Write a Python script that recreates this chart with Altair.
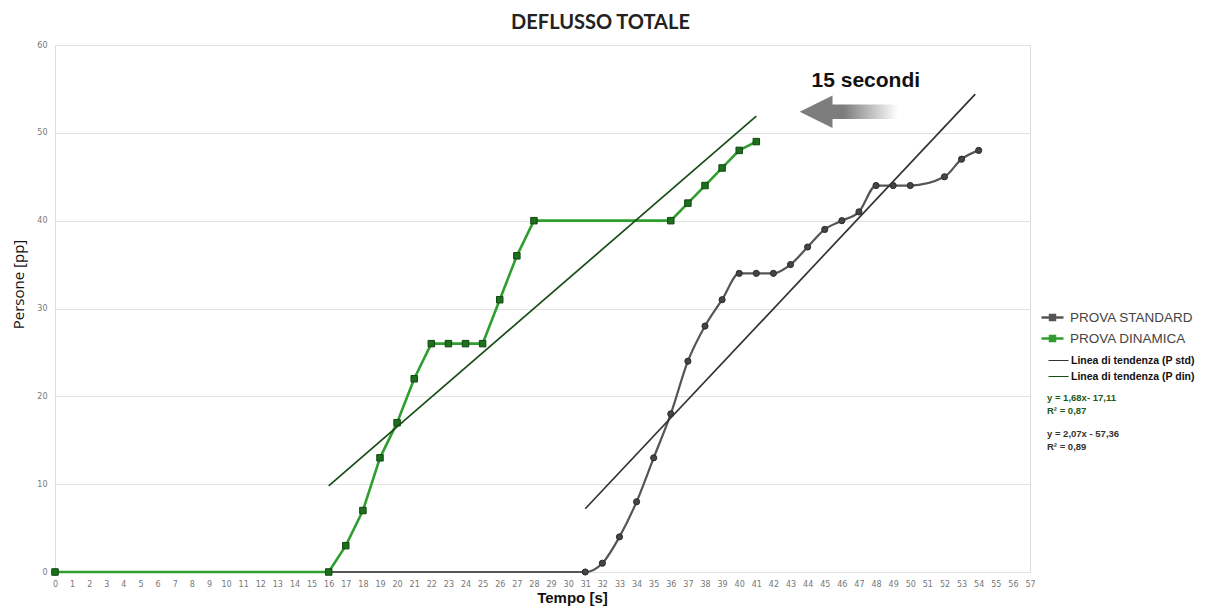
import altair as alt
import pandas as pd

# ---------------- data ----------------
title_text = "DEFLUSSO TOTALE"
x_title = "Tempo [s]"
y_title = "Persone [pp]"
series_names = ["PROVA STANDARD", "PROVA DINAMICA"]
trend_names = ["Linea di tendenza (P std)", "Linea di tendenza (P din)"]

std_t = [0, 31, 32, 33, 34, 35, 36, 37, 38, 39, 40, 41, 42, 43, 44, 45, 46, 47, 48, 49, 50, 52, 53, 54]
std_v = [0, 0, 1, 4, 8, 13, 18, 24, 28, 31, 34, 34, 34, 35, 37, 39, 40, 41, 44, 44, 44, 45, 47, 48]

din_t = [0, 16, 17, 18, 19, 20, 21, 22, 23, 24, 25, 26, 27, 28, 36, 37, 38, 39, 40, 41]
din_v = [0, 0, 3, 7, 13, 17, 22, 26, 26, 26, 26, 31, 36, 40, 40, 42, 44, 46, 48, 49]

std_trend_t = [31, 53.8]
std_trend_v = [7.2, 54.4]
din_trend_t = [16, 41]
din_trend_v = [9.8, 51.9]

eq_din = "y = 1,68x- 17,11\nR² = 0,87"
eq_std = "y = 2,07x - 57,36\nR² = 0,89"

arrow_label = ["15 secondi"]
arrow_t = [46.4]
arrow_v = [52.4]
label_t = [47.4]
label_v = [55.9]

x_ticks = list(range(0, 58))
y_ticks = [0, 10, 20, 30, 40, 50, 60]

# ---------------- tables ----------------
series_df = pd.concat([
    pd.DataFrame({"t": std_t, "v": std_v, "serie": series_names[0]}),
    pd.DataFrame({"t": din_t, "v": din_v, "serie": series_names[1]}),
], ignore_index=True)

trend_df = pd.concat([
    pd.DataFrame({"t": std_trend_t, "v": std_trend_v, "trend": trend_names[0]}),
    pd.DataFrame({"t": din_trend_t, "v": din_trend_v, "trend": trend_names[1]}),
], ignore_index=True)

arrow_df = pd.DataFrame({"t": arrow_t, "v": arrow_v})
label_df = pd.DataFrame({"t": label_t, "v": label_v, "txt": arrow_label})

# ---------------- encodings ----------------
X = alt.X("t:Q",
          scale=alt.Scale(domain=[0, 57], nice=False, zero=True),
          axis=alt.Axis(values=x_ticks, title=x_title, grid=False, ticks=False, domain=False,
                        labelFontSize=8, labelColor="#777", labelFont="DejaVu Sans",
                        labelPadding=8, labelFlush=False, labelOverlap=False,
                        titleFont="Liberation Sans", titleFontSize=15, titleFontWeight="bold",
                        titleColor="#111", titlePadding=2, titleX=517, titleAlign="center"))
Y = alt.Y("v:Q",
          scale=alt.Scale(domain=[0, 60], nice=False),
          axis=alt.Axis(values=y_ticks, title=y_title, grid=True, gridColor="#e2e2e2",
                        ticks=False, domain=False, labelFontSize=8, labelColor="#777",
                        labelFont="DejaVu Sans", labelPadding=8,
                        titleFont="Open Sans", titleFontSize=15, titleFontWeight="normal",
                        titleColor="#111", titleX=-37, titleY=239, titleBaseline="middle",
                        titleAngle=270))

color_scale = alt.Scale(domain=series_names, range=["#555555", "#2f9e2f"])
legend_path = "M-1,0L1,0M-0.22,-0.22L0.22,-0.22L0.22,0.22L-0.22,0.22Z"
series_legend = alt.Legend(title=None, orient="none", legendX=985, legendY=260,
                           labelFontSize=13.5, labelColor="#444", labelFont="Liberation Sans",
                           symbolType=legend_path, symbolSize=484, symbolStrokeWidth=2.6,
                           rowPadding=-1, labelOffset=5, labelLimit=300)


def series_layers(name, shape, pt_fill, pt_stroke, lw, size, interp, with_legend):
    base = alt.Chart(series_df).transform_filter(alt.datum.serie == name)
    line = base.mark_line(strokeWidth=lw, interpolate=interp).encode(
        x=X, y=Y,
        color=alt.Color("serie:N", scale=color_scale,
                        legend=series_legend if with_legend else None))
    pts = base.mark_point(shape=shape, filled=True, size=size, fill=pt_fill,
                          stroke=pt_stroke, strokeWidth=1, opacity=1).encode(x=X, y=Y)
    return [line, pts]


std_layers = series_layers(series_names[0], "circle", "#454545", "#2a2a2a", 2.2, 38, "monotone", True)
din_layers = series_layers(series_names[1], "square", "#1d6e1d", "#0f4a0f", 2.6, 42, "linear", False)

series_chart = alt.layer(*std_layers, *din_layers)

trend_chart = alt.Chart(trend_df).mark_line(strokeWidth=1.7).encode(
    x=X, y=Y,
    color=alt.Color("trend:N",
                    scale=alt.Scale(domain=trend_names, range=["#333333", "#174d17"]),
                    legend=alt.Legend(title=None, orient="none", legendX=993, legendY=305,
                                      labelFontSize=10.5, labelFontWeight="bold", labelColor="#111",
                                      labelFont="Liberation Sans", symbolType="stroke",
                                      symbolSize=400, symbolStrokeWidth=1, rowPadding=-9,
                                      symbolStrokeColor="#9a9a9a",
                                      labelOffset=2, labelLimit=300)),
    detail="trend:N")

arrow_grad = alt.Gradient(gradient="linear",
                          stops=[alt.GradientStop(color="#7d7d7d", offset=0),
                                 alt.GradientStop(color="#7d7d7d", offset=0.45),
                                 alt.GradientStop(color="#ffffff", offset=1)],
                          x1=0, x2=1, y1=0, y2=0)
arrow_path = "M-1,0L-0.33,-0.33L-0.33,-0.15L1,-0.15L1,0.15L-0.33,0.15L-0.33,0.33Z"
arrow = alt.Chart(arrow_df).mark_point(shape=arrow_path, size=9604, filled=True,
                                       fill=arrow_grad, strokeWidth=0, opacity=1).encode(x=X, y=Y)

arrow_text = alt.Chart(label_df).mark_text(font="Liberation Sans", fontSize=21,
                                           fontWeight="bold", color="#111").encode(
    x=X, y=Y, text="txt:N")

eq1 = alt.Chart(pd.DataFrame({"txt": [eq_din]})).mark_text(
    align="left", baseline="middle", font="Liberation Sans", fontSize=9.5, fontWeight="bold",
    color="#1c5a1c", lineBreak="\n", lineHeight=13).encode(
    x=alt.value(992), y=alt.value(353), text="txt:N")
eq2 = alt.Chart(pd.DataFrame({"txt": [eq_std]})).mark_text(
    align="left", baseline="middle", font="Liberation Sans", fontSize=9.5, fontWeight="bold",
    color="#333333", lineBreak="\n", lineHeight=13).encode(
    x=alt.value(992), y=alt.value(389), text="txt:N")

chart = alt.layer(series_chart, trend_chart, arrow, arrow_text, eq1, eq2).resolve_scale(
    color="independent"
).properties(
    width=975, height=527,
    title=alt.TitleParams(title_text, fontSize=20, font="Lato", fontWeight="bold",
                          color="#222", anchor="middle", dx=58, offset=8),
    autosize=alt.AutoSizeParams(type="none"),
    padding={"left": 47, "top": 37, "right": 167, "bottom": 40},
).configure_view(stroke=None).configure(background="white")

chart.save("out.html", embed_options={"renderer": "svg", "actions": False})
